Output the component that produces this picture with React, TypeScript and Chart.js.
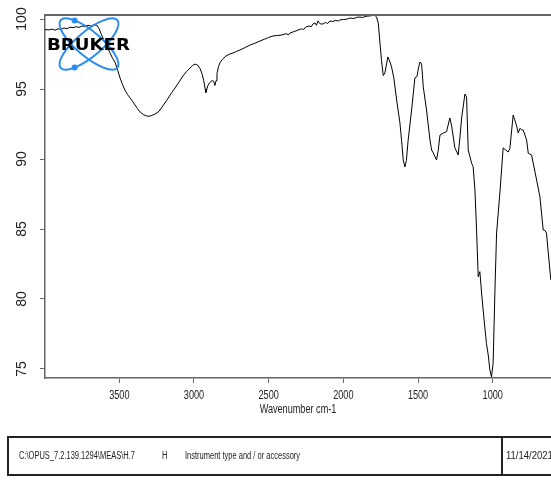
import React, { useEffect, useRef } from "react";
import { Chart, registerables } from "chart.js";

Chart.register(...registerables);

// ---- data ----
const wavenumbers = [
  3997, 3970, 3950, 3930, 3910, 3890, 3870, 3850, 3830, 3810, 3790, 3770, 3750, 3730, 3710, 3690,
  3670, 3650, 3635, 3620, 3600, 3580, 3562, 3545, 3529, 3510, 3495, 3478, 3462, 3445, 3428, 3410,
  3395, 3378, 3361, 3340, 3320, 3300, 3280, 3261, 3240, 3228, 3205, 3181, 3155, 3127, 3100, 3074,
  3050, 3027, 3010, 2993, 2975, 2959, 2945, 2935, 2925, 2920, 2914, 2907, 2895, 2880, 2868, 2860,
  2852, 2846, 2836, 2826, 2810, 2786, 2760, 2739, 2715, 2692, 2660, 2625, 2590, 2558, 2530, 2500,
  2471, 2440, 2411, 2385, 2365, 2358, 2330, 2304, 2280, 2265, 2251, 2230, 2215, 2204, 2190, 2180,
  2170, 2155, 2137, 2120, 2105, 2090, 2070, 2050, 2035, 2023, 2000, 1980, 1956, 1930, 1910, 1889,
  1870, 1855, 1836, 1815, 1800, 1789, 1778, 1766, 1755, 1745, 1733, 1722, 1712, 1702, 1690, 1677,
  1662, 1643, 1621, 1610, 1599, 1588, 1578, 1566, 1543, 1521, 1507, 1497, 1487, 1476, 1465, 1443,
  1420, 1409, 1398, 1376, 1365, 1353, 1331, 1309, 1287, 1275, 1253, 1231, 1220, 1208, 1186, 1175,
  1164, 1141, 1131, 1119, 1108, 1097, 1086, 1075, 1064, 1042, 1030, 1019, 1008, 997, 985, 974,
  952, 930, 912, 896, 885, 863, 852, 840, 829, 818, 807, 796, 773, 762, 740, 706,
  684, 662, 650, 640, 611,
];

const transmittance = [
  99.25, 99.22, 99.28, 99.2, 99.3, 99.26, 99.36, 99.3, 99.42, 99.38, 99.45, 99.4, 99.5, 99.47, 99.55, 99.5,
  99.58, 99.55, 99.3, 98.9, 98.4, 98.0, 97.57, 97.2, 96.93, 96.3, 95.79, 95.3, 94.93, 94.6, 94.36, 94.1,
  93.86, 93.6, 93.36, 93.18, 93.08, 93.05, 93.12, 93.21, 93.35, 93.5, 93.85, 94.21, 94.65, 95.07, 95.5, 95.93,
  96.25, 96.5, 96.68, 96.78, 96.7, 96.45, 96.05, 95.6, 95.0, 94.75, 95.0, 95.25, 95.45, 95.6, 95.55, 95.25,
  95.6, 96.1, 96.6, 96.88, 97.1, 97.36, 97.5, 97.57, 97.68, 97.79, 97.95, 98.14, 98.28, 98.43, 98.55, 98.68,
  98.79, 98.82, 98.86, 98.95, 98.88, 99.0, 99.1, 99.21, 99.3, 99.25, 99.43, 99.5, 99.45, 99.64, 99.72, 99.55,
  99.86, 99.65, 99.64, 99.75, 99.68, 99.86, 99.82, 99.9, 99.85, 99.93, 99.97, 99.98, 100.07, 100.03, 100.12, 100.14,
  100.1, 100.18, 100.21, 100.23, 100.26, 100.25, 100.15, 99.7, 98.3, 97.1, 95.96, 96.14, 96.7, 97.29, 97.0, 96.57,
  95.79, 94.21, 92.57, 91.3, 89.93, 89.43, 89.9, 91.36, 93.5, 95.79, 95.89, 96.5, 96.93, 96.79, 95.16, 93.5,
  91.36, 90.64, 90.43, 89.93, 90.6, 91.71, 91.86, 91.95, 92.93, 92.36, 90.79, 90.29, 91.5, 92.93, 94.64, 94.43,
  90.64, 89.69, 89.45, 87.79, 84.93, 81.59, 81.95, 80.5, 79.21, 76.84, 76.0, 74.93, 74.43, 75.43, 80.64, 84.71,
  87.57, 90.79, 90.64, 90.5, 90.76, 93.14, 92.79, 92.36, 91.86, 92.19, 92.1, 92.07, 91.36, 90.41, 90.29, 88.5,
  87.31, 84.93, 84.9, 84.71, 81.36,
];

const xTicks = [3500, 3000, 2500, 2000, 1500, 1000];
const yTicks = [75, 80, 85, 90, 95, 100];
const xRange = [609.7, 3997.5];
const yRange = [74.357, 100.286];
const xTitle = "Wavenumber cm-1";
const logoText = "BRUKER";
const footerPath = "C:\\OPUS_7.2.139.1294\\MEAS\\H.7";
const footerSample = "H";
const footerInstrument = "Instrument type and / or accessory";
const footerDate = "11/14/2021";

const SANS = '"Liberation Sans", Arial, sans-serif';

const decorPlugin = {
  id: "decor",
  afterDatasetsDraw(chart: any) {
    const { ctx, chartArea } = chart;
    ctx.save();
    // top frame line
    ctx.strokeStyle = "#666";
    ctx.lineWidth = 2;
    ctx.beginPath();
    ctx.moveTo(chartArea.left - 1, chartArea.top);
    ctx.lineTo(chartArea.right, chartArea.top);
    ctx.stroke();

    // Bruker logo
    const cx = 89;
    const cy = 44;
    const a = 37;
    const b = 12.5;
    const th = (40 * Math.PI) / 180;
    ctx.strokeStyle = "#2a8cee";
    ctx.fillStyle = "#2a8cee";
    ctx.lineWidth = 2;
    [th, -th].forEach((r) => {
      ctx.beginPath();
      ctx.ellipse(cx, cy, a, b, r, 0, Math.PI * 2);
      ctx.stroke();
    });
    const pt = (r: number, t: number) => [
      cx + a * Math.cos(t) * Math.cos(r) - b * Math.sin(t) * Math.sin(r),
      cy + a * Math.cos(t) * Math.sin(r) + b * Math.sin(t) * Math.cos(r),
    ];
    const d1 = pt(th, (225 * Math.PI) / 180);
    const d2 = pt(-th, (135 * Math.PI) / 180);
    [d1, d2].forEach(([x, y]) => {
      ctx.beginPath();
      ctx.arc(x, y, 3, 0, Math.PI * 2);
      ctx.fill();
    });
    ctx.fillStyle = "#000";
    ctx.font = 'bold 16px "DejaVu Sans", sans-serif';
    ctx.textBaseline = "alphabetic";
    ctx.textAlign = "left";
    const w = ctx.measureText(logoText).width;
    ctx.translate(47, 50);
    ctx.scale(83 / w, 1);
    ctx.fillText(logoText, 0, 0);
    ctx.restore();
  },
};

// Tick labels drawn at the positions given by the Chart.js scales
// (condensed x labels, rotated y labels as in the OPUS printout).
const axisLabelPlugin = {
  id: "axisLabels",
  afterDraw(chart: any) {
    const { ctx } = chart;
    const xs = chart.scales.x;
    const ys = chart.scales.y;
    ctx.save();
    ctx.fillStyle = "#222";
    ctx.textAlign = "center";
    ctx.textBaseline = "middle";
    ctx.font = `12.5px ${SANS}`;
    xs.ticks.forEach((t: any) => {
      const px = xs.getPixelForValue(t.value);
      ctx.save();
      ctx.translate(px, xs.top + 18);
      ctx.scale(0.73, 1);
      ctx.fillText(String(t.value), 0, 0);
      ctx.restore();
    });
    ctx.save();
    ctx.translate((xs.left + xs.right) / 2, xs.top + 32);
    ctx.scale(0.73, 1);
    ctx.fillText(xTitle, 0, 0);
    ctx.restore();

    ctx.font = `14px ${SANS}`;
    ctx.textBaseline = "alphabetic";
    ys.ticks.forEach((t: any) => {
      const py = ys.getPixelForValue(t.value);
      ctx.save();
      ctx.translate(ys.left + 25.5, py);
      ctx.rotate(-Math.PI / 2);
      ctx.fillText(String(t.value), 0, 0);
      ctx.restore();
    });
    ctx.restore();
  },
};

export default function App() {
  const ref = useRef<HTMLCanvasElement | null>(null);

  useEffect(() => {
    if (!ref.current) return;
    const points = wavenumbers.map((w, i) => ({ x: w, y: transmittance[i] }));
    const chart = new Chart(ref.current, {
      type: "line",
      data: {
        datasets: [
          {
            data: points,
            borderColor: "#000",
            borderWidth: 1,
            pointRadius: 0,
            tension: 0,
            fill: false,
          },
        ],
      },
      options: {
        responsive: false,
        animation: false,
        parsing: false as any,
        events: [],
        layout: { padding: { top: 15, bottom: 71, left: 0, right: 0 } },
        plugins: {
          legend: { display: false },
          tooltip: { enabled: false },
          title: { display: false },
        },
        scales: {
          x: {
            type: "linear",
            reverse: true,
            min: xRange[0],
            max: xRange[1],
            afterBuildTicks: (s: any) => {
              s.ticks = xTicks.map((v) => ({ value: v }));
            },
            afterFit: (s: any) => {
              s.height = 40;
              s.paddingLeft = 0;
              s.paddingRight = 0;
            },
            grid: {
              display: true,
              drawOnChartArea: false,
              drawTicks: true,
              tickLength: 5,
              color: "#666",
              lineWidth: 1,
            },
            border: { display: true, color: "#666", width: 1.5 },
            ticks: { display: false, autoSkip: false },
            title: { display: false },
          },
          y: {
            type: "linear",
            min: yRange[0],
            max: yRange[1],
            afterBuildTicks: (s: any) => {
              s.ticks = yTicks.map((v) => ({ value: v }));
            },
            afterFit: (s: any) => {
              s.width = 45;
              s.paddingTop = 0;
              s.paddingBottom = 0;
            },
            grid: {
              display: true,
              drawOnChartArea: false,
              drawTicks: true,
              tickLength: 5,
              color: "#666",
              lineWidth: 1,
            },
            border: { display: true, color: "#666", width: 1.5 },
            ticks: { display: false, autoSkip: false },
          },
        },
      },
      plugins: [decorPlugin, axisLabelPlugin],
    });
    return () => chart.destroy();
  }, []);

  const footerFont: React.CSSProperties = {
    position: "absolute",
    top: 0,
    lineHeight: "36px",
    fontFamily: SANS,
    fontSize: 10,
    color: "#222",
    whiteSpace: "nowrap",
    transformOrigin: "left center",
    transform: "scaleX(0.75)",
  };

  return (
    <div
      style={{
        position: "fixed",
        left: 0,
        top: 0,
        width: 551,
        height: 489,
        overflow: "hidden",
        background: "#fff",
      }}
    >
      <canvas ref={ref} width={551} height={489} style={{ display: "block" }} />
      <div
        style={{
          position: "absolute",
          left: 7,
          top: 436,
          width: 620,
          height: 40,
          border: "2px solid #222",
          boxSizing: "border-box",
        }}
      >
        <span style={{ ...footerFont, left: 10 }}>{footerPath}</span>
        <span style={{ ...footerFont, left: 153 }}>{footerSample}</span>
        <span style={{ ...footerFont, left: 176 }}>{footerInstrument}</span>
        <div
          style={{
            position: "absolute",
            left: 492,
            top: 0,
            bottom: 0,
            borderLeft: "2px solid #222",
          }}
        />
        <span style={{ ...footerFont, left: 497, transform: "scaleX(0.95)" }}>{footerDate}</span>
      </div>
    </div>
  );
}
